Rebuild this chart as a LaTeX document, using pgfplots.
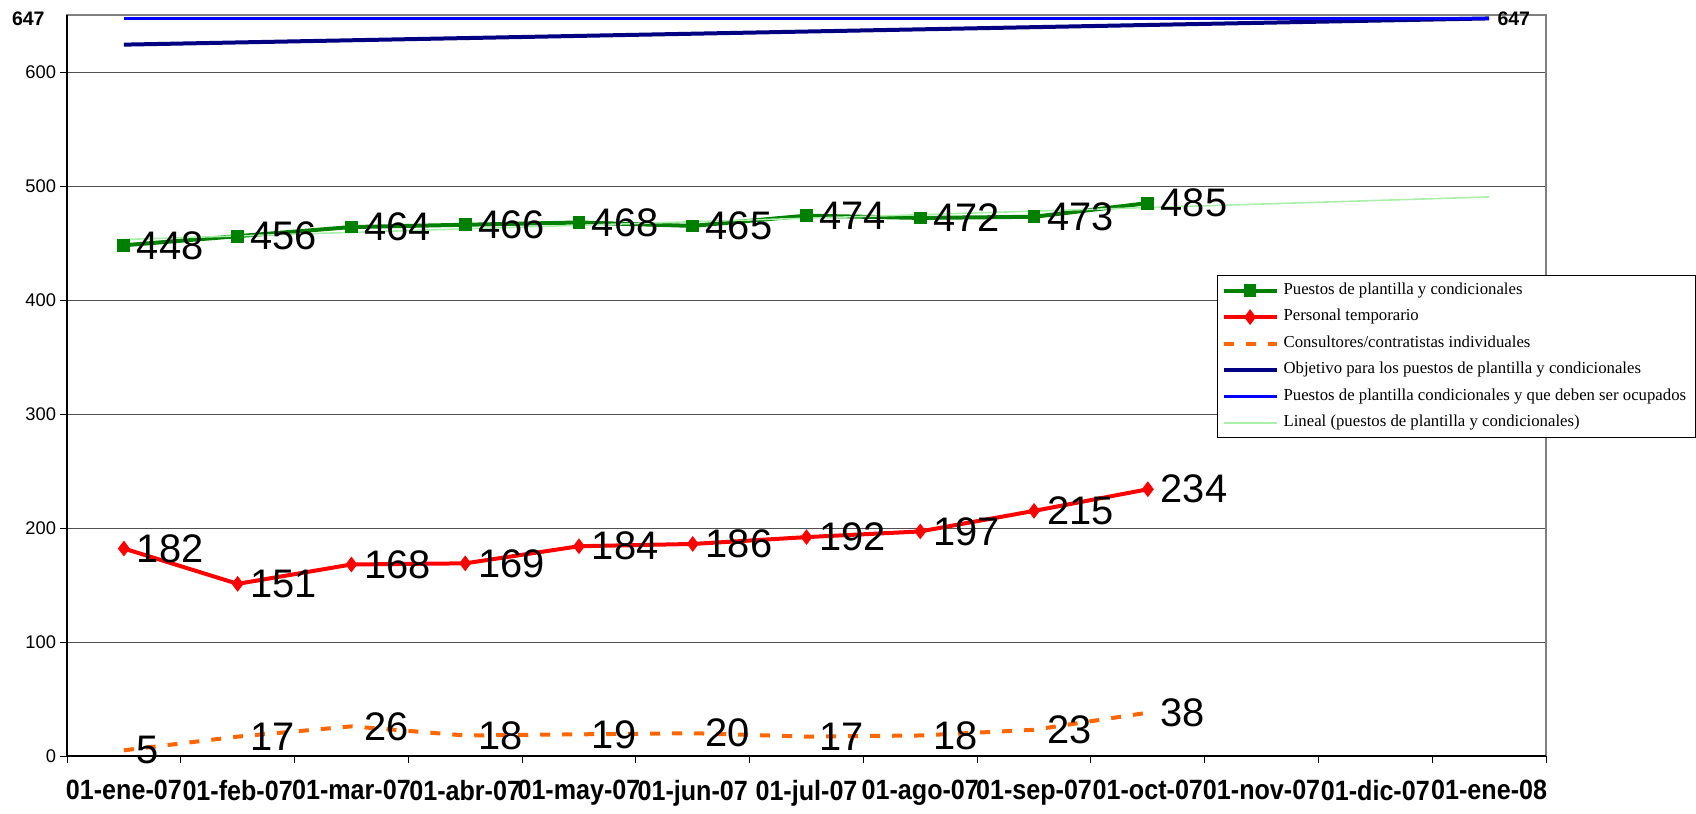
\documentclass[border=0pt]{standalone}
\usepackage{pgfplots}
\pgfplotsset{compat=1.18}
\usepackage{fontspec}
\setmainfont{Liberation Sans}
\newfontfamily\legfont{Liberation Serif}
\newfontfamily\narrowbold[FakeStretch=0.9]{Liberation Sans}
\definecolor{cgreen}{RGB}{0,128,0}
\definecolor{cred}{RGB}{255,0,0}
\definecolor{corange}{RGB}{255,102,0}
\definecolor{cnavy}{RGB}{0,0,128}
\definecolor{cblue}{RGB}{0,0,255}
\definecolor{ctrend}{RGB}{170,240,170}
\definecolor{cgrid}{RGB}{80,80,80}
\begin{document}
\begin{tikzpicture}
\begin{axis}[
  name=ax, clip=false,
  scale only axis, width=739.5bp, height=370.5bp,
  xmin=-0.5, xmax=12.5, ymin=0, ymax=650,
  tick pos=left,
  xtick={0,...,12},
  xticklabels={01-ene-07,01-feb-07,01-mar-07,01-abr-07,01-may-07,01-jun-07,01-jul-07,01-ago-07,01-sep-07,01-oct-07,01-nov-07,01-dic-07,01-ene-08},
  x tick label style={font=\narrowbold\fontsize{14}{14}\selectfont\bfseries, yshift=-5bp},
  major x tick style={draw=none},
  extra x ticks={-0.5,0.5,...,12.5}, extra x tick labels={},
  extra x tick style={major x tick style={draw=black}, major tick length=3.5bp},
  ytick={0,100,...,600},
  y tick label style={font=\fontsize{9.2}{10}\selectfont, xshift=1.5bp},
  /pgf/number format/assume math mode=true,
  ymajorgrids, grid style={cgrid, line width=0.5bp},
  axis line style={gray, line width=0.6bp},
  tick style={black, line width=0.5bp}, major tick length=3.5bp,
  tick align=outside,
  every node near coord/.append style={anchor=west, inner sep=0pt, xshift=5.5bp, font=\fontsize{20}{20}\selectfont, text=black},
  legend style={at={(0.7776,0.6491)}, anchor=north west, draw=black, line width=0.5bp, fill=white,
    font=\legfont\fontsize{8.4}{8.5}\selectfont, inner xsep=2bp, inner ysep=1bp, row sep=0pt,
    nodes={inner xsep=2.5bp, inner ysep=0pt, text height=8.5bp, text depth=4.7bp}},
  legend cell align=left,
  legend image code/.code={\draw[mark repeat=2,mark phase=2,#1] plot coordinates {(0bp,0bp) (13.25bp,0bp) (26.5bp,0bp)};},
]
\addplot[cgreen, line width=2bp, mark=square*, mark size=2.2bp, mark options={solid}, nodes near coords]
  coordinates {(0,448) (1,456) (2,464) (3,466) (4,468) (5,465) (6,474) (7,472) (8,473) (9,485)};
\addlegendentry{Puestos de plantilla y condicionales}
\addplot[cred, line width=2bp, mark=diamond*, mark size=2.3bp, mark options={solid}, nodes near coords]
  coordinates {(0,182) (1,151) (2,168) (3,169) (4,184) (5,186) (6,192) (7,197) (8,215) (9,234)};
\addlegendentry{Personal temporario}
\addplot[corange, line width=2bp, dash pattern=on 5bp off 6bp, mark=none, nodes near coords]
  coordinates {(0,5) (1,17) (2,26) (3,18) (4,19) (5,20) (6,17) (7,18) (8,23) (9,38)};
\addlegendentry{Consultores/contratistas individuales}
\addplot[cnavy, line width=2bp, mark=none] coordinates {(0,624) (12,647)};
\addlegendentry{Objetivo para los puestos de plantilla y condicionales}
\addplot[cblue, line width=1.5bp, mark=none] coordinates {(0,647) (12,647)};
\addlegendentry{Puestos de plantilla condicionales y que deben ser ocupados}
\addplot[ctrend, line width=0.8bp, mark=none] coordinates {(0,453.1) (12,490.4)};
\addlegendentry{Lineal (puestos de plantilla y condicionales)}
\addplot[draw=none, mark=none, forget plot, nodes near coords,
  every node near coord/.append style={xshift=-1.5bp, font=\fontsize{9.8}{10}\selectfont\bfseries}]
  coordinates {(12,647)};
\node[anchor=east, inner sep=0pt, font=\fontsize{9.8}{10}\selectfont\bfseries] at (axis cs:-0.5,647) [xshift=-11bp] {647};
\draw[black, line width=0.6bp] (rel axis cs:0,1) -- (rel axis cs:0,0) -- (rel axis cs:1,0);
\end{axis}
\pgfresetboundingbox
\path[use as bounding box] (ax.south west) ++(-33.5bp,-29bp) rectangle ++(848bp,407bp);
\end{tikzpicture}
\end{document}
